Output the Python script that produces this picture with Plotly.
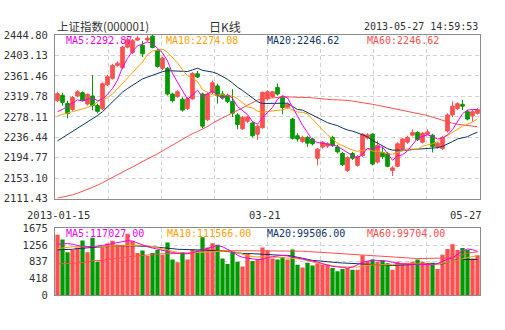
import plotly.graph_objects as go

# ---------------- data ----------------
dates = (["2013-01-%02d" % d for d in [15, 16, 17, 18, 21, 22, 23, 24, 25, 28, 29, 30, 31]] +
         ["2013-02-%02d" % d for d in [1, 4, 5, 6, 7, 8, 18, 19, 20, 21, 22, 25, 26, 27, 28]] +
         ["2013-03-%02d" % d for d in [1, 4, 5, 6, 7, 8, 11, 12, 13, 14, 15, 18, 19, 20, 21, 22, 25, 26, 27, 28, 29]] +
         ["2013-04-%02d" % d for d in [1, 2, 3, 8, 9, 10, 11, 12, 15, 16, 17, 18, 19, 22, 23, 24, 25, 26]] +
         ["2013-05-%02d" % d for d in [2, 3, 6, 7, 8, 9, 10, 13, 14, 15, 16, 17, 20, 21, 22, 23, 24, 27]])

opens = [2310.79, 2321.90, 2305.56, 2293.14, 2320.59, 2327.13, 2304.25, 2320.59, 2300.98, 2294.45,
         2343.47, 2356.55, 2382.70, 2378.12, 2419.96, 2408.84, 2434.34, 2423.88, 2434.34, 2442.18,
         2412.77, 2376.81, 2376.81, 2324.52, 2319.29, 2314.06, 2295.10, 2314.71, 2365.70, 2324.52,
         2272.22, 2327.79, 2340.86, 2324.52, 2321.25, 2309.48, 2282.03, 2253.92, 2268.95, 2265.68,
         2242.80, 2255.88, 2314.71, 2319.29, 2337.59, 2317.98, 2297.06, 2273.53, 2239.54, 2227.77,
         2236.27, 2233.00, 2193.78, 2216.66, 2218.62, 2236.27, 2216.66, 2203.58, 2168.94, 2203.58,
         2179.40, 2199.01, 2234.96, 2242.80, 2185.93, 2205.54, 2203.58, 2168.94, 2177.43, 2212.08,
         2226.46, 2240.84, 2246.07, 2226.46, 2242.80, 2240.84, 2216.66, 2213.39, 2249.34, 2282.03,
         2295.10, 2303.60, 2288.56, 2280.07, 2285.29]
highs = [2329.09, 2327.13, 2310.79, 2320.59, 2332.36, 2329.75, 2325.82, 2363.09, 2304.91, 2348.05,
         2363.74, 2385.96, 2391.19, 2422.57, 2439.57, 2436.95, 2442.18, 2432.38, 2443.49, 2444.80,
         2416.03, 2400.35, 2379.43, 2327.13, 2332.36, 2317.98, 2317.98, 2368.97, 2371.58, 2327.13,
         2327.79, 2351.97, 2345.44, 2331.05, 2324.52, 2334.32, 2285.29, 2280.07, 2280.07, 2268.95,
         2262.42, 2329.75, 2332.36, 2331.05, 2346.09, 2320.59, 2306.21, 2276.14, 2244.77, 2239.54,
         2239.54, 2235.61, 2214.70, 2229.08, 2226.46, 2239.54, 2221.23, 2206.85, 2197.70, 2206.85,
         2200.31, 2244.77, 2244.77, 2244.77, 2229.73, 2216.66, 2206.85, 2177.43, 2226.46, 2235.61,
         2239.54, 2252.61, 2248.69, 2247.38, 2252.61, 2243.46, 2226.46, 2239.54, 2285.29, 2309.48,
         2307.52, 2312.75, 2291.83, 2293.14, 2295.75]
lows = [2308.17, 2300.98, 2274.84, 2289.87, 2317.98, 2309.48, 2300.98, 2291.18, 2285.29, 2291.83,
        2340.86, 2353.93, 2380.08, 2375.51, 2417.34, 2405.58, 2432.38, 2399.69, 2431.72, 2417.34,
        2378.12, 2373.54, 2321.25, 2307.52, 2316.67, 2288.56, 2291.83, 2312.75, 2357.20, 2255.22,
        2268.95, 2324.52, 2304.91, 2314.71, 2306.21, 2277.45, 2252.61, 2251.30, 2265.68, 2236.27,
        2231.04, 2253.92, 2311.44, 2316.67, 2321.25, 2283.33, 2294.45, 2231.69, 2227.77, 2225.15,
        2216.66, 2219.92, 2179.40, 2213.39, 2214.70, 2216.66, 2203.58, 2178.09, 2165.67, 2190.51,
        2176.78, 2196.39, 2231.69, 2179.40, 2182.66, 2192.47, 2175.47, 2157.82, 2175.47, 2209.47,
        2223.19, 2238.23, 2229.08, 2223.85, 2240.84, 2205.54, 2213.39, 2210.77, 2246.07, 2277.45,
        2291.83, 2291.83, 2270.91, 2268.95, 2282.68]
closes = [2325.17, 2307.52, 2284.64, 2317.33, 2329.09, 2312.10, 2323.86, 2300.98, 2289.22, 2345.44,
          2359.82, 2382.70, 2387.27, 2419.96, 2434.99, 2433.03, 2438.26, 2406.23, 2438.26, 2419.30,
          2380.74, 2397.73, 2324.52, 2310.79, 2329.09, 2291.83, 2314.71, 2366.35, 2359.16, 2259.15,
          2324.52, 2347.40, 2321.25, 2317.98, 2309.48, 2285.29, 2262.42, 2277.45, 2277.45, 2239.54,
          2259.15, 2327.79, 2329.09, 2329.09, 2324.52, 2297.06, 2303.60, 2234.31, 2233.00, 2236.27,
          2224.50, 2223.19, 2212.08, 2226.46, 2223.19, 2219.92, 2206.85, 2180.70, 2195.08, 2193.78,
          2197.05, 2242.80, 2241.50, 2182.01, 2219.92, 2197.05, 2177.43, 2174.17, 2223.19, 2233.00,
          2236.27, 2246.07, 2231.69, 2244.77, 2247.38, 2217.96, 2224.50, 2236.27, 2282.03, 2299.68,
          2304.91, 2299.68, 2273.53, 2288.56, 2293.14]

ma5 = [2288.56, 2293.14, 2299.68, 2306.21, 2312.75, 2310.14, 2313.40, 2316.67, 2310.79, 2314.06,
       2323.86, 2335.63, 2352.63, 2378.77, 2397.08, 2411.46, 2422.57, 2426.49, 2430.42, 2427.15,
       2416.69, 2408.19, 2391.85, 2366.35, 2348.70, 2331.05, 2314.06, 2322.56, 2332.36, 2317.98,
       2324.52, 2331.05, 2322.56, 2314.06, 2323.86, 2316.02, 2299.02, 2290.52, 2282.68, 2268.30,
       2263.07, 2276.14, 2286.60, 2297.06, 2314.06, 2321.25, 2316.67, 2297.72, 2278.76, 2261.11,
       2246.07, 2230.38, 2225.81, 2224.50, 2221.89, 2221.23, 2217.96, 2211.43, 2204.89, 2199.01,
       2194.43, 2201.62, 2214.04, 2211.43, 2216.66, 2216.66, 2203.58, 2189.85, 2198.35, 2200.97,
       2208.81, 2222.54, 2234.31, 2238.23, 2241.50, 2237.57, 2233.00, 2234.31, 2241.50, 2251.96,
       2269.61, 2284.64, 2291.83, 2293.14, 2292.87]
ma10 = [2280.07, 2282.68, 2285.29, 2288.56, 2291.83, 2294.45, 2297.06, 2300.98, 2308.83, 2313.54,
        2317.00, 2324.52, 2334.78, 2345.04, 2355.63, 2367.73, 2379.17, 2389.69, 2404.60, 2411.98,
        2414.07, 2415.58, 2409.30, 2398.39, 2387.80, 2373.68, 2361.32, 2357.33, 2349.42, 2333.41,
        2327.79, 2322.75, 2322.42, 2323.14, 2321.18, 2320.53, 2315.30, 2306.41, 2298.24, 2296.28,
        2289.74, 2287.78, 2288.56, 2289.68, 2291.18, 2292.36, 2296.47, 2292.16, 2287.72, 2287.39,
        2283.92, 2273.46, 2261.76, 2251.50, 2241.37, 2233.65, 2223.98, 2218.62, 2214.83, 2210.58,
        2207.83, 2209.79, 2212.73, 2208.29, 2207.96, 2205.67, 2202.73, 2202.08, 2204.89, 2208.81,
        2212.73, 2213.06, 2212.08, 2218.35, 2221.10, 2223.19, 2227.90, 2234.11, 2239.99, 2246.66,
        2253.52, 2258.89, 2263.07, 2267.45, 2274.08]
ma20 = [2229.08, 2235.61, 2242.15, 2248.69, 2255.22, 2261.11, 2266.99, 2274.18, 2280.72, 2288.56,
        2298.37, 2308.83, 2318.63, 2328.44, 2335.63, 2342.82, 2348.70, 2355.24, 2359.16, 2362.76,
        2365.50, 2370.01, 2372.04, 2371.71, 2371.71, 2370.67, 2370.28, 2373.54, 2377.01, 2372.69,
        2370.93, 2369.16, 2365.83, 2360.73, 2354.46, 2347.07, 2338.31, 2331.84, 2323.86, 2314.84,
        2308.76, 2305.23, 2305.50, 2306.41, 2306.21, 2306.41, 2305.89, 2299.28, 2292.94, 2291.83,
        2286.80, 2280.59, 2275.16, 2270.59, 2266.27, 2263.00, 2260.19, 2255.36, 2251.30, 2248.95,
        2245.88, 2241.63, 2237.25, 2229.86, 2224.63, 2219.67, 2213.39, 2210.32, 2209.86, 2209.66,
        2210.25, 2211.43, 2212.41, 2213.32, 2214.50, 2214.43, 2215.35, 2218.09, 2222.41, 2227.77,
        2233.13, 2235.94, 2237.57, 2242.87, 2246.62]
ma60 = [2112.72, 2114.68, 2117.29, 2119.26, 2122.52, 2126.45, 2130.37, 2134.29, 2138.87, 2144.10,
        2149.33, 2154.55, 2159.78, 2165.01, 2170.24, 2175.47, 2180.70, 2186.59, 2191.82, 2197.05,
        2202.93, 2208.81, 2214.70, 2220.58, 2226.46, 2232.35, 2238.23, 2244.11, 2248.03, 2252.61,
        2258.49, 2265.03, 2270.91, 2276.14, 2280.72, 2285.95, 2291.18, 2296.41, 2301.64, 2306.87,
        2312.10, 2314.71, 2316.02, 2317.33, 2317.98, 2318.63, 2318.63, 2318.63, 2318.63, 2317.98,
        2317.33, 2316.67, 2315.37, 2314.71, 2313.40, 2312.75, 2312.75, 2312.75, 2311.44, 2310.14,
        2308.83, 2306.87, 2304.91, 2303.60, 2301.64, 2299.68, 2297.72, 2295.75, 2293.79, 2291.83,
        2289.87, 2287.91, 2285.95, 2283.33, 2280.72, 2277.45, 2274.18, 2270.91, 2267.65, 2265.03,
        2263.07, 2261.76, 2260.45, 2259.15, 2257.84]

volumes = [1515, 1396, 1077, 1133, 1196, 1372, 1077, 1436, 837, 1196,
           1292, 1364, 1260, 1260, 1539, 1356, 1053, 1117, 981, 1053,
           1133, 1013, 1316, 893, 822, 1077, 893, 1141, 1117, 1452,
           1196, 1300, 1260, 917, 782, 1053, 837, 718, 1037, 853,
           893, 1196, 1117, 917, 893, 957, 893, 1141, 758, 694,
           814, 742, 798, 758, 758, 678, 598, 654, 678, 638,
           638, 997, 853, 893, 837, 877, 798, 638, 837, 814,
           814, 837, 893, 837, 814, 814, 654, 1013, 1157, 1276,
           1133, 1180, 1133, 917, 997]
vol_ma5 = [1276, 1284, 1292, 1276, 1236, 1212, 1212, 1212, 1228, 1244,
           1268, 1292, 1324, 1348, 1364, 1356, 1308, 1252, 1212, 1180,
           1149, 1117, 1093, 1069, 1045, 1037, 1037, 1061, 1101, 1141,
           1180, 1220, 1244, 1212, 1149, 1085, 997, 949, 925, 901,
           893, 893, 941, 965, 981, 997, 981, 957, 925, 909,
           877, 853, 829, 790, 750, 718, 710, 694, 678, 702,
           766, 822, 853, 877, 869, 869, 853, 822, 790, 782,
           782, 782, 782, 774, 766, 758, 790, 845, 901, 933,
           1021, 1109, 1157, 1141, 1093]
vol_ma10 = [1165, 1180, 1204, 1212, 1212, 1212, 1212, 1212, 1212, 1212,
            1212, 1220, 1228, 1236, 1244, 1252, 1252, 1244, 1236, 1220,
            1188, 1157, 1125, 1101, 1061, 1045, 1053, 1061, 1069, 1085,
            1093, 1101, 1109, 1117, 1109, 1101, 1061, 1021, 989, 965,
            957, 973, 957, 949, 949, 941, 933, 925, 917, 901,
            861, 829, 798, 774, 758, 734, 718, 710, 702, 702,
            702, 734, 750, 758, 758, 758, 758, 766, 782, 790,
            798, 790, 782, 774, 766, 758, 766, 798, 822, 845,
            877, 909, 941, 965, 989]
vol_ma20 = [1133, 1133, 1133, 1149, 1165, 1180, 1188, 1196, 1204, 1212,
            1220, 1228, 1236, 1236, 1236, 1236, 1236, 1228, 1220, 1212,
            1204, 1196, 1188, 1165, 1149, 1141, 1141, 1141, 1133, 1133,
            1125, 1125, 1117, 1109, 1093, 1069, 1053, 1045, 1045, 1037,
            1029, 1013, 1005, 1005, 1005, 997, 997, 981, 949, 925,
            893, 869, 861, 845, 837, 829, 814, 806, 798, 790,
            782, 774, 766, 758, 750, 742, 734, 742, 750, 758,
            766, 774, 774, 774, 782, 782, 782, 782, 822, 861,
            893, 893, 893, 893, 893]
vol_ma60 = [782, 782, 790, 798, 806, 814, 829, 861, 861, 869,
            893, 909, 933, 957, 965, 973, 981, 997, 1013, 1021,
            1029, 1037, 1037, 1037, 1037, 1045, 1053, 1061, 1077, 1093,
            1101, 1109, 1117, 1117, 1117, 1117, 1117, 1117, 1117, 1117,
            1117, 1117, 1117, 1117, 1117, 1117, 1117, 1109, 1101, 1101,
            1093, 1085, 1077, 1069, 1061, 1045, 1037, 1029, 1021, 1013,
            1005, 997, 989, 981, 973, 957, 957, 949, 941, 933,
            925, 917, 917, 917, 917, 917, 917, 917, 933, 949,
            965, 1013, 1053, 1069, 1085]

price_ticks = [2111.43, 2153.10, 2194.77, 2236.44, 2278.11, 2319.78, 2361.46, 2403.13, 2444.80]
price_ticktext = ["2111.43", "2153.10", "2194.77", "2236.44", "2278.11", "2319.78", "2361.46", "2403.13", "2444.80"]
vol_ticks = [0, 418.75, 837.5, 1256.25, 1675]
vol_ticktext = ["0", "418", "837", "1256", "1675"]
date_labels = {0: "2013-01-15", 42: "03-21", 84: "05-27"}

title_left = "上证指数(000001)"
title_mid = "日K线"
title_right = "2013-05-27 14:59:53"
price_legend = [("MA5:2292.87", "#F000F0"), ("MA10:2274.08", "#FFA000"),
                ("MA20:2246.62", "#0A3464"), ("MA60:2246.62", "#FF4F4F")]
vol_legend = [("MA5:117027.00", "#F000F0"), ("MA10:111566.00", "#FFA000"),
              ("MA20:99506.00", "#0A3464"), ("MA60:99704.00", "#FF4F4F")]

# ---------------- style ----------------
RED = "#FF5050"
GREEN = "#009900"
C_MA5, C_MA10, C_MA20, C_MA60 = "#F000F0", "#FFA000", "#0A3464", "#FF4F4F"
GRID = "#D2D2D2"
FRAME = "#8C8C8C"
TXT = "#333333"
MONO = "DejaVu Sans Mono, Noto Sans CJK SC"
CJK = "Noto Sans CJK SC, DejaVu Sans Mono"

W, H = 505, 330
L, R = 55, 480
MAIN_T, MAIN_B = 30, 200
VOL_T, VOL_B = 230.7, 300

idx = list(range(len(dates)))
n = len(idx)

fig = go.Figure()

fig.add_trace(go.Candlestick(
    x=idx, open=opens, high=highs, low=lows, close=closes,
    increasing=dict(line=dict(color=RED, width=1), fillcolor=RED),
    decreasing=dict(line=dict(color=GREEN, width=1), fillcolor=GREEN),
    whiskerwidth=0, showlegend=False, hoverinfo="skip",
    xaxis="x", yaxis="y"))

for series, col in [(ma60, C_MA60), (ma20, C_MA20), (ma10, C_MA10), (ma5, C_MA5)]:
    fig.add_trace(go.Scatter(x=idx, y=series, mode="lines", line=dict(color=col, width=1),
                             showlegend=False, hoverinfo="skip", xaxis="x", yaxis="y"))

bar_colors = [RED if c >= o else GREEN for o, c in zip(opens, closes)]
fig.add_trace(go.Bar(x=idx, y=volumes, marker=dict(color=bar_colors, line=dict(width=0)),
                     width=0.85, showlegend=False, hoverinfo="skip", xaxis="x2", yaxis="y2"))

for series, col in [(vol_ma60, C_MA60), (vol_ma20, C_MA20), (vol_ma10, C_MA10), (vol_ma5, C_MA5)]:
    fig.add_trace(go.Scatter(x=idx, y=series, mode="lines", line=dict(color=col, width=1),
                             showlegend=False, hoverinfo="skip", xaxis="x2", yaxis="y2"))


def px(x):
    return x / W


def py(y):
    return 1 - y / H


grid_x = [-0.5 + k * n / 8 for k in range(1, 8)]
xcommon = dict(domain=[px(L), px(R)], range=[-0.5, n - 0.5], tickvals=grid_x,
               showticklabels=False, ticks="", showgrid=True, gridcolor=GRID,
               griddash="4px,3px", gridwidth=1, showline=True, mirror=True,
               linecolor=FRAME, linewidth=1, zeroline=False, fixedrange=True)

fig.update_layout(
    width=W, height=H, margin=dict(l=0, r=0, t=0, b=0),
    paper_bgcolor="white", plot_bgcolor="white",
    boxgap=0.15, boxgroupgap=0.15,
    xaxis=dict(anchor="y", rangeslider=dict(visible=False), **xcommon),
    xaxis2=dict(anchor="y2", **xcommon),
    yaxis=dict(domain=[py(MAIN_B), py(MAIN_T)], range=[price_ticks[0], price_ticks[-1]],
               tickvals=price_ticks, ticktext=price_ticktext, ticks="",
               tickfont=dict(family=MONO, size=10.5, color=TXT), ticklabelstandoff=4,
               showgrid=True, gridcolor=GRID, griddash="4px,3px", showline=True, mirror=True,
               linecolor=FRAME, linewidth=1, zeroline=False, anchor="x", fixedrange=True),
    yaxis2=dict(domain=[py(VOL_B), py(VOL_T)], range=[0, 1675],
                tickvals=vol_ticks, ticktext=vol_ticktext, ticks="",
                tickfont=dict(family=MONO, size=10.5, color=TXT), ticklabelstandoff=4,
                showgrid=True, gridcolor=GRID, griddash="4px,3px", showline=True, mirror=True,
                linecolor=FRAME, linewidth=1, zeroline=False, anchor="x2", fixedrange=True),
    bargap=0.15,
)

ann = []
ann.append(dict(x=px(L), y=py(21), xref="paper", yref="paper", text=title_left, showarrow=False,
                xanchor="left", yanchor="middle", font=dict(family=CJK, size=11.5, color=TXT)))
ann.append(dict(x=px(225), y=py(21), xref="paper", yref="paper", text=title_mid, showarrow=False,
                xanchor="center", yanchor="middle", font=dict(family=CJK, size=12, color=TXT)))
ann.append(dict(x=px(R), y=py(21), xref="paper", yref="paper", text=title_right, showarrow=False,
                xanchor="right", yanchor="middle", font=dict(family=MONO, size=10, color=TXT)))

leg_x = [64, 164, 265, 365]
for (t, c), lx in zip(price_legend, leg_x):
    ann.append(dict(x=px(lx), y=py(36), xref="paper", yref="paper", text=t, showarrow=False,
                    xanchor="left", yanchor="middle", font=dict(family=MONO, size=10, color=c)))
for (t, c), lx in zip(vol_legend, [64, 165, 265, 365]):
    ann.append(dict(x=px(lx), y=py(236.5), xref="paper", yref="paper", text=t, showarrow=False,
                    xanchor="left", yanchor="middle", font=dict(family=MONO, size=10, color=c)))

for i, t in date_labels.items():
    if i == 0:
        anchor, shift = "center", 1
    elif i == n - 1:
        anchor, shift = "right", 6
    else:
        anchor, shift = "center", -3
    ann.append(dict(x=i, y=py(217), xref="x", yref="paper", text=t, showarrow=False,
                    xanchor=anchor, yanchor="middle", xshift=shift,
                    font=dict(family=MONO, size=10.5, color=TXT)))

fig.update_layout(annotations=ann)
fig.write_html("out.html")
